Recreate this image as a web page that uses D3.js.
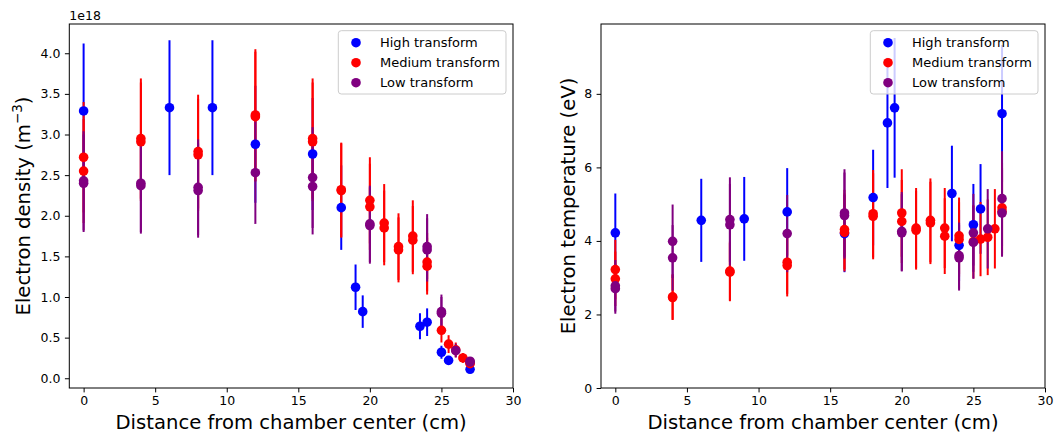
<!DOCTYPE html>
<html>
<head>
<meta charset="utf-8">
<script src="https://cdn.jsdelivr.net/npm/d3@7"></script>
<style>
  body { margin: 0; background: #fff; }
  svg { display: block; }
  text { font-family: "DejaVu Sans", sans-serif; fill: #000; }
</style>
</head>
<body>
<svg id="fig" width="1054" height="433"></svg>
<script>
// Probe positions (cm from chamber center) and measurements per transform level.
// Densities are in units of 1e18 m^-3, temperatures in eV.
const highPos = [0, 6, 9, 12, 16, 18, 19, 19.5, 23.5, 24, 25, 25.5, 27];
const highDensity = [3.29, 3.33, 3.33, 2.88, 2.76, 2.10, 1.12, 0.82, 0.64, 0.69, 0.32, 0.22, 0.11];
const highDensityErr = [0.83, 0.83, 0.83, 0.72, 0.69, 0.52, 0.28, 0.20, 0.16, 0.17, 0.08, 0.055, 0.03];
const highTemp = [4.22, 4.56, 4.60, 4.79, 4.20, 5.18, 7.21, 7.62, 5.29, 3.88, 4.44, 4.87, 7.46];
const highTempErr = [1.07, 1.13, 1.14, 1.19, 1.05, 1.30, 1.77, 1.90, 1.30, 0.97, 1.11, 1.22, 1.87];

const mediumPos = [0, 0, 4, 4, 8, 8, 12, 12, 16, 16, 18, 18, 20, 20, 21, 21, 22, 22, 23, 23, 24, 24, 25, 25.5, 26, 26.5, 27, 27];
const mediumDensity = [2.72, 2.55, 2.95, 2.91, 2.79, 2.75, 3.24, 3.22, 2.95, 2.91, 2.32, 2.31, 2.19, 2.11, 1.91, 1.85, 1.62, 1.58, 1.75, 1.70, 1.43, 1.38, 0.59, 0.42, 0.35, 0.25, 0.19, 0.18];
const mediumDensityErr = [0.68, 0.64, 0.74, 0.73, 0.70, 0.69, 0.81, 0.80, 0.74, 0.73, 0.58, 0.58, 0.53, 0.53, 0.48, 0.46, 0.41, 0.40, 0.44, 0.42, 0.36, 0.35, 0.15, 0.11, 0.09, 0.06, 0.05, 0.045];
const mediumTemp = [3.22, 2.97, 2.48, 2.46, 3.18, 3.15, 3.42, 3.33, 4.31, 4.23, 4.74, 4.67, 4.76, 4.53, 4.35, 4.29, 4.56, 4.49, 4.35, 4.13, 4.14, 4.04, 3.98, 4.05, 4.10, 4.33, 4.90, 4.80];
const mediumTempErr = [0.81, 0.74, 0.62, 0.61, 0.80, 0.79, 0.86, 0.84, 1.08, 1.06, 1.19, 1.17, 1.19, 1.13, 1.09, 1.07, 1.14, 1.12, 1.09, 1.03, 1.04, 1.01, 1.00, 1.01, 1.03, 1.08, 1.23, 1.20];

const lowPos = [0, 0, 4, 4, 8, 8, 12, 16, 16, 20, 20, 24, 24, 25, 25, 26, 27, 27];
const lowDensity = [2.43, 2.40, 2.40, 2.37, 2.35, 2.31, 2.53, 2.47, 2.36, 1.90, 1.88, 1.62, 1.58, 0.82, 0.80, 0.34, 0.21, 0.20];
const lowDensityErr = [0.61, 0.60, 0.60, 0.59, 0.59, 0.58, 0.63, 0.62, 0.59, 0.47, 0.47, 0.40, 0.39, 0.21, 0.20, 0.085, 0.05, 0.05];
const lowTemp = [2.78, 2.70, 3.99, 3.54, 4.58, 4.44, 4.20, 4.76, 4.69, 4.26, 4.22, 3.60, 3.54, 4.22, 3.96, 4.33, 5.15, 4.76];
const lowTempErr = [0.70, 0.68, 1.00, 0.89, 1.15, 1.11, 1.05, 1.19, 1.17, 1.07, 1.05, 0.90, 0.89, 1.06, 0.99, 1.08, 1.29, 1.19];

const seriesNames = ["High transform", "Medium transform", "Low transform"];
const seriesColors = ["#0000ff", "#ff0000", "#800080"];

const xTicks = [0, 5, 10, 15, 20, 25, 30];
const densityTicks = [0.0, 0.5, 1.0, 1.5, 2.0, 2.5, 3.0, 3.5, 4.0];
const tempTicks = [0, 2, 4, 6, 8];

const svg = d3.select("#fig");

function zipSeries(pos, val, err) {
  return pos.map((p, i) => ({ x: p, y: val[i], e: err[i] }));
}

const densitySeries = [
  zipSeries(highPos, highDensity, highDensityErr),
  zipSeries(mediumPos, mediumDensity, mediumDensityErr),
  zipSeries(lowPos, lowDensity, lowDensityErr)
];
const tempSeries = [
  zipSeries(highPos, highTemp, highTempErr),
  zipSeries(mediumPos, mediumTemp, mediumTempErr),
  zipSeries(lowPos, lowTemp, lowTempErr)
];

function drawPanel(cfg) {
  const x = d3.scaleLinear().domain([-1, 30]).range([cfg.left, cfg.right]);
  const y = d3.scaleLinear().domain(cfg.yDomain).range([cfg.bottom, cfg.top]);
  const g = svg.append("g");

  // Error bars (all series first), then markers on top
  cfg.series.forEach((data, si) => {
    g.append("g").selectAll("line").data(data).join("line")
      .attr("x1", d => x(d.x)).attr("x2", d => x(d.x))
      .attr("y1", d => y(d.y - d.e)).attr("y2", d => y(d.y + d.e))
      .attr("stroke", seriesColors[si]).attr("stroke-width", 2);
  });
  cfg.series.forEach((data, si) => {
    g.append("g").selectAll("circle").data(data).join("circle")
      .attr("cx", d => x(d.x)).attr("cy", d => y(d.y)).attr("r", 4.8)
      .attr("fill", seriesColors[si]);
  });

  // Axes
  const xAxis = d3.axisBottom(x).tickValues(xTicks).tickSize(4.4).tickPadding(4).tickFormat(d3.format("d"));
  const gx = g.append("g").attr("transform", `translate(0,${cfg.bottom})`).call(xAxis);
  const yAxis = d3.axisLeft(y).tickValues(cfg.yTicks).tickSize(4.4).tickPadding(4.5).tickFormat(cfg.yFormat);
  const gy = g.append("g").attr("transform", `translate(${cfg.left},0)`).call(yAxis);
  [gx, gy].forEach(a => {
    a.select(".domain").remove();
    a.selectAll(".tick line").attr("stroke", "#000").attr("stroke-width", 1);
    a.selectAll(".tick text").attr("font-size", 12.5).attr("font-family", "DejaVu Sans").attr("fill", "#000");
  });

  // Frame
  g.append("rect")
    .attr("x", cfg.left).attr("y", cfg.top)
    .attr("width", cfg.right - cfg.left).attr("height", cfg.bottom - cfg.top)
    .attr("fill", "none").attr("stroke", "#000").attr("stroke-width", 1);

  // Axis labels
  g.append("text")
    .attr("x", (cfg.left + cfg.right) / 2).attr("y", 428.5)
    .attr("text-anchor", "middle").attr("font-size", 19.6)
    .text("Distance from chamber center (cm)");

  const yl = g.append("text")
    .attr("transform", `translate(${cfg.yLabelX},${(cfg.top + cfg.bottom) / 2}) rotate(-90)`)
    .attr("text-anchor", "middle").attr("font-size", 19.6);
  cfg.yLabel(yl);

  if (cfg.offsetText) {
    g.append("text").attr("x", cfg.left).attr("y", 20)
      .attr("font-size", 12.5).text(cfg.offsetText);
  }

  // Legend
  const lg = g.append("g").attr("transform", `translate(${cfg.right - 174.7},30.7)`);
  lg.append("rect").attr("width", 167.7).attr("height", 63.3).attr("rx", 3)
    .attr("fill", "#fff").attr("fill-opacity", 0.8)
    .attr("stroke", "#cccccc").attr("stroke-width", 1);
  seriesNames.forEach((name, i) => {
    lg.append("circle").attr("cx", 17.7).attr("cy", 12 + i * 20).attr("r", 4.8)
      .attr("fill", seriesColors[i]);
    lg.append("text").attr("x", 41.7).attr("y", 12 + i * 20).attr("dy", "0.36em")
      .attr("font-size", 13).text(name);
  });
}

drawPanel({
  left: 69.3, right: 513, top: 24, bottom: 388,
  yDomain: [-0.12, 4.36], yTicks: densityTicks, yFormat: d3.format(".1f"),
  series: densitySeries, yLabelX: 29.5, offsetText: "1e18",
  yLabel: t => {
    t.append("tspan").text("Electron density (m");
    t.append("tspan").attr("baseline-shift", "super").attr("font-size", 13.5).text("\u22123");
    t.append("tspan").text(")");
  }
});

drawPanel({
  left: 601, right: 1045, top: 24, bottom: 388,
  yDomain: [0, 9.9], yTicks: tempTicks, yFormat: d3.format("d"),
  series: tempSeries, yLabelX: 575,
  yLabel: t => t.text("Electron temperature (eV)")
});
</script>
</body>
</html>
